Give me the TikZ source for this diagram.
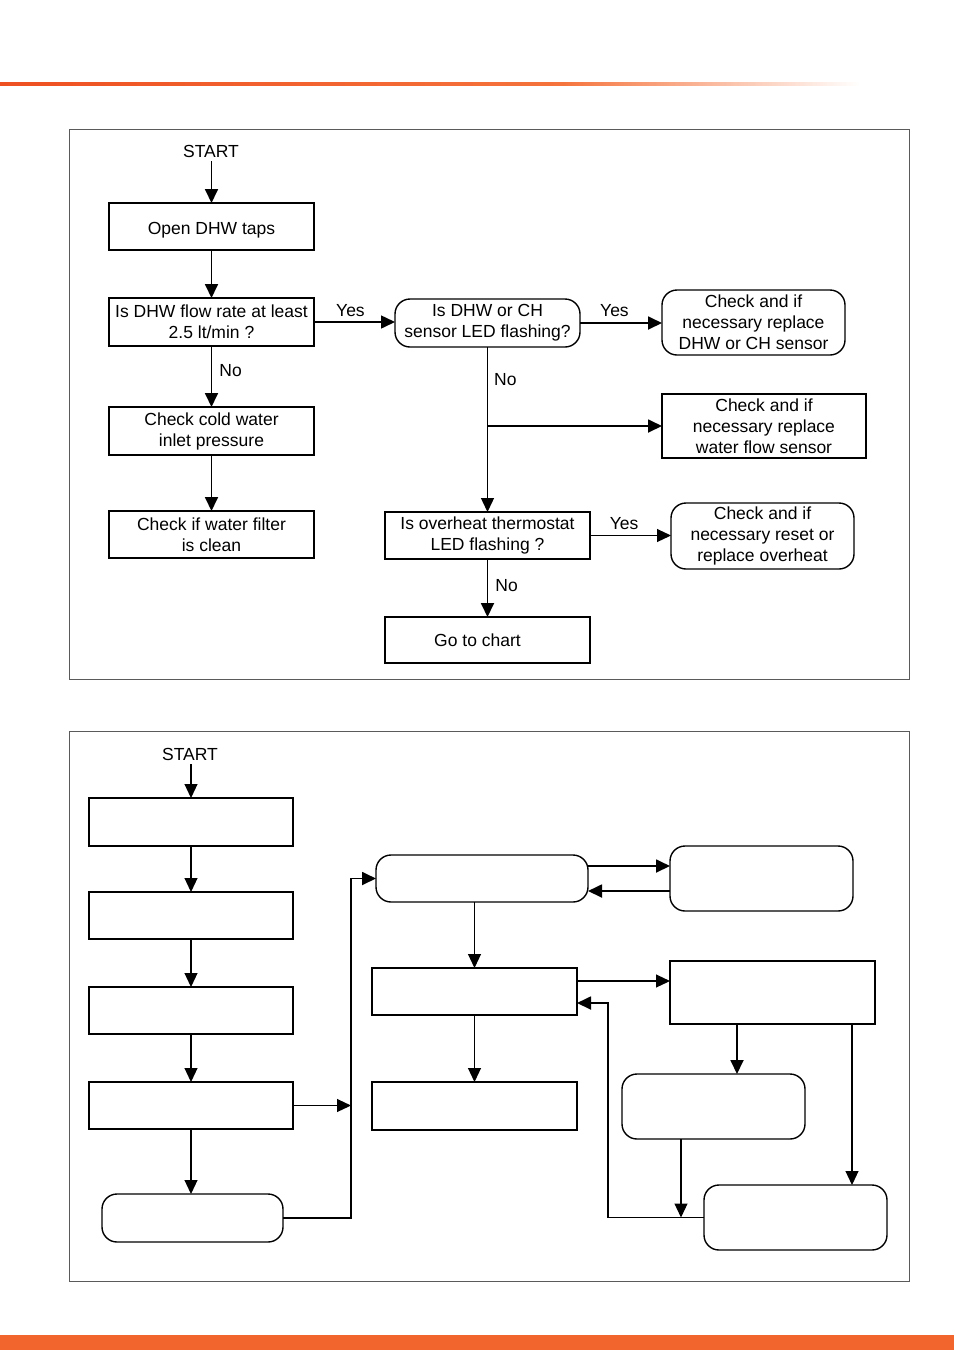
\documentclass[tikz,border=0pt]{standalone}
\usepackage{fontspec}
\setmainfont{Liberation Sans}
\usetikzlibrary{arrows.meta}
\definecolor{barorange}{RGB}{242,101,45}
\definecolor{barred}{RGB}{238,80,34}
\definecolor{barmid}{RGB}{245,115,60}
\definecolor{framegray}{RGB}{90,90,90}
\begin{document}
\begin{tikzpicture}[x = 1pt, y = -1pt,
	font = \fontsize{17.5}{21}\selectfont,
	box/.style = {draw, line width = 1.8pt, inner sep = 0pt, outer sep = 0pt, align = center, minimum width = 205pt, minimum height = 47pt},
	roundbox/.style = {box, rounded corners = 15pt, line width = 1.4pt},
	arr/.style = {line width = 1.8pt, -{Triangle[length = 14pt, width = 13pt]}},
	thinarr/.style = {arr, line width = 1.1pt},
	lbl/.style = {inner sep = 0pt}]
	\useasboundingbox (0,0) rectangle (954,1350);
	
	% page decoration
	\shade[left color = barred, right color = barmid] (0,82) rectangle (561,85);
	\shade[left color = barmid, right color = white] (560,82) rectangle (860,85);
	\fill[barorange] (0,1335) rectangle (954,1350);
	\draw[framegray, line width = 1pt] (69,129) rectangle (909,679);
	\draw[framegray, line width = 1pt] (69,731) rectangle (909,1281);
	
	% first chart
	\node[lbl] (start) at (211,151) {START};
	\node[box] (taps) at (211.5,226.5) {\raisebox{-4pt}[\height][\depth]{Open DHW taps}};
	\node[box, minimum height = 48pt] (flow) at (211.5,322) {Is DHW flow rate at least\\2.5 lt/min ?};
	\node[box, minimum height = 48pt] (cold) at (211.5,431) {Check cold water\\inlet pressure};
	\node[box] (filter) at (211.5,534.5) {Check if water filter\\is clean};
	\node[roundbox, minimum width = 185pt, minimum height = 48pt] (sensled) at (487.5,323) {Is DHW or CH\\sensor LED flashing?};
	\node[roundbox, minimum width = 183pt, minimum height = 65pt] (replsens) at (753.5,322.5) {Check and if\\necessary replace\\DHW or CH sensor};
	\node[box, minimum width = 204pt, minimum height = 64pt] (flowsens) at (764,426) {Check and if\\necessary replace\\water flow sensor};
	\node[box] (overheat) at (487.5,535.5) {Is overheat thermostat\\LED flashing ?};
	\node[roundbox, minimum width = 183pt, minimum height = 66pt] (resetoh) at (762.5,536) {Check and if\\necessary reset or\\replace overheat};
	\node[box, minimum height = 46pt] (chart) at (487.5,640) {\hspace*{-10pt}Go to chart\hspace*{10pt}};
	
	\draw[arr] (start.south -| taps.north) ++(0,-4pt) -- (taps.north);
	\draw[arr] (taps) -- (flow);
	\draw[arr] (flow) -- (cold) node[lbl, pos = 0.4, right = 7pt] {No};
	\draw[arr] (cold) -- (filter);
	\draw[arr, line width = 1.5pt] (flow.east) -- (flow.east -| sensled.west) node[lbl, pos = 0.45, above = 5pt] {Yes};
	\draw[arr] (sensled.east) -- (sensled.east -| replsens.west) node[lbl, pos = 0.42, above = 5pt] {Yes};
	\coordinate (branch) at (sensled.south |- flowsens.west);
	\draw[arr, line width = 1.4pt] (sensled.south) -- (overheat.north) node[lbl, pos = 0.2, right = 6pt] {No};
	\draw[arr] (branch) -- (flowsens.west);
	\draw[thinarr] (overheat.east) -- (overheat.east -| resetoh.west) node[lbl, pos = 0.42, above = 5pt] {Yes};
	\draw[arr] (overheat) -- (chart) node[lbl, pos = 0.45, right = 7pt] {No};
	
	% second chart
	\node[lbl] (start2) at (190,754) {START};
	\node[box, minimum width = 204pt, minimum height = 48pt, line width = 2.2pt] (b1) at (191,822) {};
	\node[box, minimum width = 204pt, line width = 1.5pt] (b2) at (191,915.5) {};
	\node[box, minimum width = 204pt, line width = 1.5pt] (b3) at (191,1010.5) {};
	\node[box, minimum width = 204pt, line width = 1.5pt] (b4) at (191,1105.5) {};
	\node[roundbox, minimum width = 181pt, minimum height = 48pt] (r1) at (192.5,1218) {};
	\node[roundbox, minimum width = 212pt] (r2) at (482,878.5) {};
	\node[roundbox, minimum width = 183pt, minimum height = 65pt] (r3) at (761.5,878.5) {};
	\node[box] (b5) at (474.5,991.5) {};
	\node[box, minimum height = 63pt] (b6) at (772.5,992.5) {};
	\node[box, minimum height = 48pt, line width = 1.5pt] (b7) at (474.5,1106) {};
	\node[roundbox, minimum width = 183pt, minimum height = 65pt] (r4) at (713.5,1106.5) {};
	\node[roundbox, minimum width = 183pt, minimum height = 65pt] (r5) at (795.5,1217.5) {};
	
	\coordinate (feed) at (351,1105.5);
	\coordinate (rise) at (351,1218);
	\coordinate (merge) at (681,1217.5);
	\coordinate (back) at (608,1217.5);
	
	\draw[thinarr] (start2.south -| b1.north) ++(0,-4pt) -- (b1.north);
	\draw[thinarr] (b1) -- (b2);
	\draw[thinarr] (b2) -- (b3);
	\draw[thinarr] (b3) -- (b4);
	\draw[thinarr] (b4.south) -- (b4.south |- r1.north);
	\draw[thinarr] (b4.east) -- (feed);
	\draw[arr] (r1.east) -- (rise) |- (r2.west);
	\draw[arr] ([yshift = 12.5pt]r2.east) -- ([yshift = 12.5pt]r2.east -| r3.west);
	\draw[arr] ([yshift = -12.5pt]r3.west) -- ([yshift = -12.5pt]r3.west -| r2.east);
	\draw[thinarr] (b5.north |- r2.south) -- (b5.north);
	\draw[thinarr] ([yshift = 10.5pt]b5.east) -- ([yshift = 10.5pt]b5.east -| b6.west);
	\draw[thinarr] (b5) -- (b7);
	\draw[arr] ([xshift = 23.5pt]r4.north |- b6.south) -- ([xshift = 23.5pt]r4.north);
	\draw[thinarr] ([xshift = 56.5pt]r5.north |- b6.south) -- ([xshift = 56.5pt]r5.north);
	\draw[thinarr] (merge |- r4.south) -- (merge);
	\draw[arr] (r5.west) -- (back) |- ([yshift = -11.5pt]b5.east);
	
\end{tikzpicture}
\end{document}
